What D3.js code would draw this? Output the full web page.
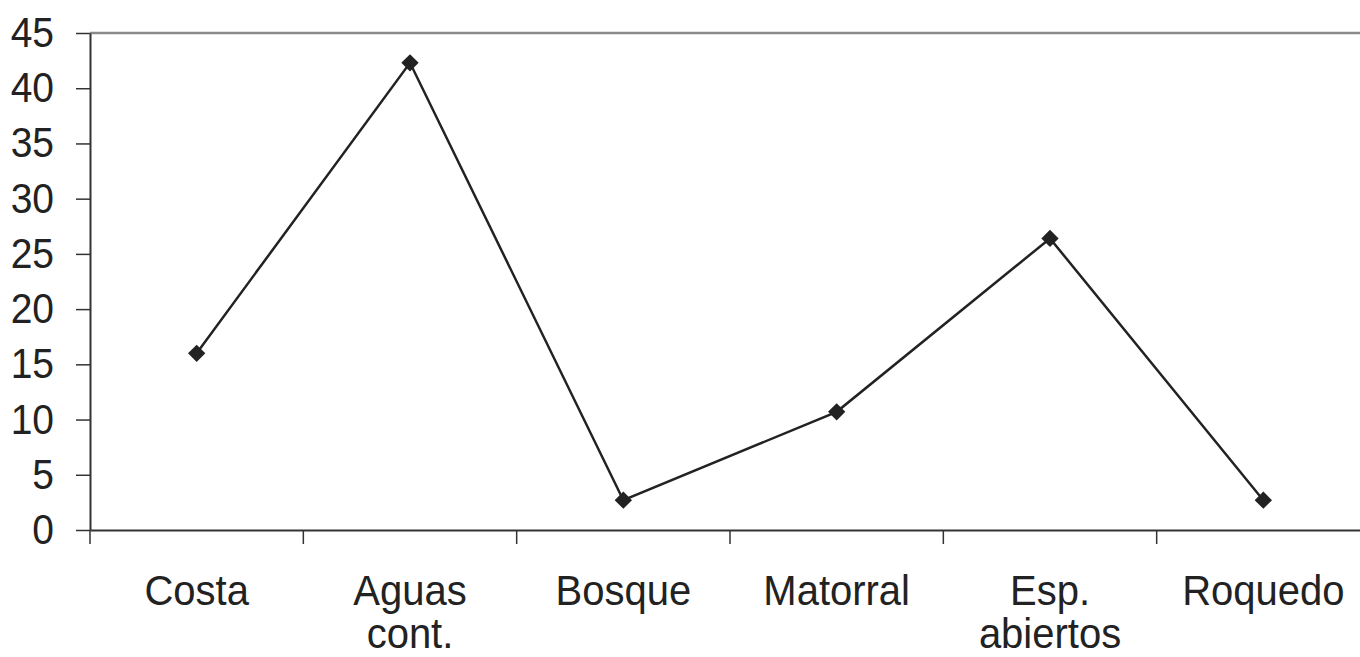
<!DOCTYPE html>
<html>
  <head>
    <script src="https://d3js.org/d3.v7.min.js"></script>
    <style>
      body { margin: 0; background: #fff; }
      text { font-family: "Liberation Sans", Arial, sans-serif; fill: #222; }
      .axis .domain { stroke: #333; stroke-width: 2; }
      .axis .tick line { stroke: #333; stroke-width: 1.5; }
    </style>
  </head>
  <body>
    <svg width="1360" height="657"></svg>
    <script>
      const categories = [["Costa"], ["Aguas", "cont."], ["Bosque"], ["Matorral"], ["Esp.", "abiertos"], ["Roquedo"]];
      const values = [16.0, 42.3, 2.7, 10.7, 26.4, 2.7];
      const yTicks = [0, 5, 10, 15, 20, 25, 30, 35, 40, 45];

      const svg = d3.select("svg");
      const plotLeft = 90, plotRight = 1370, plotTop = 33, plotBottom = 530;

      const xScale = d3.scaleBand().domain(d3.range(categories.length)).range([plotLeft, plotRight]);
      const yScale = d3.scaleLinear().domain([0, 45]).range([plotBottom, plotTop]);

      // top border of plot area
      svg.append("line")
          .attr("x1", plotLeft).attr("x2", 1360)
          .attr("y1", yScale(45)).attr("y2", yScale(45))
          .attr("stroke", "#8a8a8a").attr("stroke-width", 2.5);

      const yAxis = d3.axisLeft(yScale).tickValues(yTicks).tickSizeInner(14).tickSizeOuter(0).tickFormat("");
      svg.append("g").attr("class", "axis")
          .attr("transform", `translate(${plotLeft},0)`)
          .call(yAxis);

      svg.append("g").selectAll("text").data(yTicks).join("text")
          .attr("text-anchor", "end")
          .attr("font-size", 39)
          .attr("transform", d => `translate(54,${yScale(d) + 14}) scale(1,1.08)`)
          .text(d => d);

      const xAxis = d3.axisBottom(xScale).tickSizeInner(0).tickSizeOuter(0).tickFormat("");
      const xg = svg.append("g").attr("class", "axis")
          .attr("transform", `translate(0,${plotBottom})`)
          .call(xAxis);
      xg.select(".domain").attr("stroke", "#444").attr("stroke-width", 2.5);
      // category boundary ticks
      xg.selectAll(".bound").data(d3.range(categories.length)).join("line")
          .attr("class", "bound")
          .attr("x1", i => xScale(i)).attr("x2", i => xScale(i))
          .attr("y1", 0).attr("y2", 14)
          .attr("stroke", "#333").attr("stroke-width", 1.5);

      const labels = svg.append("g").selectAll("g").data(categories).join("g")
          .attr("transform", (d, i) => `translate(${xScale(i) + xScale.bandwidth() / 2},0)`);
      labels.selectAll("text").data(d => d).join("text")
          .attr("text-anchor", "middle")
          .attr("font-size", 40)
          .attr("transform", (d, j) => `translate(0,${605 + j * 43}) scale(1,1.07)`)
          .text(d => d);

      const px = i => xScale(i) + xScale.bandwidth() / 2;
      const line = d3.line().x((d, i) => px(i)).y(d => yScale(d));
      svg.append("path").datum(values)
          .attr("d", line)
          .attr("fill", "none")
          .attr("stroke", "#222")
          .attr("stroke-width", 2.5);

      svg.append("g").selectAll("path").data(values).join("path")
          .attr("d", d3.symbol(d3.symbolSquare, 150)())
          .attr("transform", (d, i) => `translate(${px(i)},${yScale(d)}) rotate(45)`)
          .attr("fill", "#222");
    </script>
  </body>
</html>
